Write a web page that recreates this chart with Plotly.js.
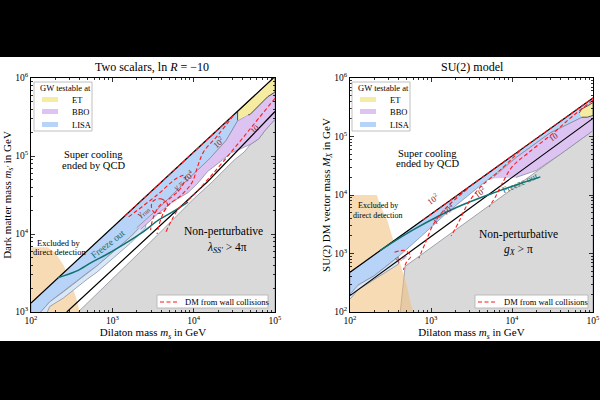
<!DOCTYPE html>
<html>
<head>
<meta charset="utf-8">
<script src="https://cdn.plot.ly/plotly-3.0.1.min.js"></script>
<style>
  html, body { margin: 0; padding: 0; background: #000; }
  #chart { width: 600px; height: 400px; }
</style>
</head>
<body>
<div id="chart"></div>
<script>
// All coordinates below are log10 of the masses in GeV: [log10 m_s, log10 m_DM]

// ---------- Left panel: two scalars, ln R = -10 ----------
const L_upperEdge   = [[2.0, 3.115], [4.98, 6.0]];
const L_lowerEdge   = [[2.44, 3.0], [4.17, 4.67], [5.0, 5.57]];
const L_nonPert     = [[2.58, 3.0], [3.0, 3.42], [3.5, 3.93], [4.0, 4.45], [4.23, 4.67], [4.5, 4.95],
                       [4.62, 5.05], [4.7, 5.15], [4.8, 5.22], [4.88, 5.33], [5.0, 5.47], [5.0, 3.0]];
const L_lisa        = [[2.0, 3.0], [2.0, 3.115], [4.54, 5.57], [4.54, 5.45], [4.4, 5.2], [4.2, 4.97],
                       [3.93, 4.70], [3.6, 4.36], [3.41, 4.16], [3.22, 3.96], [3.01, 3.77], [2.81, 3.59],
                       [2.69, 3.50], [2.52, 3.36], [2.40, 3.26], [2.23, 3.13], [2.12, 3.0]];
const L_lisaPale    = [[2.12, 3.0], [2.23, 3.13], [2.40, 3.26], [2.52, 3.36], [2.69, 3.50], [2.81, 3.59],
                       [3.01, 3.77], [3.22, 3.96], [3.41, 4.16], [3.41, 4.08], [3.22, 3.88], [3.01, 3.69],
                       [2.81, 3.51], [2.69, 3.42], [2.52, 3.28], [2.40, 3.18], [2.23, 3.07], [2.2, 3.0]];
const L_bbo         = [[3.3, 4.08], [3.6, 4.36], [3.93, 4.70], [4.2, 4.97], [4.4, 5.2], [4.54, 5.45],
                       [4.67, 5.53], [4.69, 5.53], [4.91, 5.76], [5.0, 5.82], [5.0, 5.47], [4.88, 5.33],
                       [4.8, 5.22], [4.7, 5.15], [4.55, 5.08], [4.46, 5.04], [4.33, 4.93], [4.17, 4.80],
                       [4.05, 4.65], [3.93, 4.53], [3.75, 4.42], [3.55, 4.25], [3.35, 4.06]];
const L_et          = [[4.54, 5.46], [4.54, 5.57], [4.98, 6.0], [5.0, 6.0], [5.0, 5.82], [4.91, 5.76],
                       [4.69, 5.53], [4.67, 5.53]];
const L_directDet   = [[2.0, 3.0], [2.0, 3.83], [2.2, 3.83], [2.3, 3.76], [2.4, 3.6], [2.48, 3.40],
                       [2.55, 3.2], [2.6, 3.0]];
const L_freezeOut   = [[2.33, 3.44], [2.55, 3.52], [2.75, 3.64], [2.95, 3.75], [3.16, 3.88], [3.37, 4.02],
                       [3.57, 4.18], [3.75, 4.29], [3.93, 4.41]];
// wall-collision contours
const L_gammaEnv    = [[3.15, 4.23], [4.0, 5.05], [4.5, 5.53]];
const L_gamma10     = [[5.0, 5.74], [4.75, 5.42], [4.5, 5.1], [4.2, 4.73], [3.96, 4.46], [3.82, 4.33],
                       [3.74, 4.2], [3.66, 4.03]];
const L_gamma100    = [[4.49, 5.52], [4.3, 5.27], [4.12, 5.05], [4.05, 4.87], [3.98, 4.66], [3.85, 4.5],
                       [3.68, 4.36], [3.6, 4.2], [3.55, 4.0]];
const L_gamma1e4    = [[3.2, 4.22], [3.55, 4.5], [3.8, 4.72], [3.9, 4.75], [3.85, 4.6], [3.7, 4.45],
                       [3.58, 4.36], [3.5, 4.2], [3.47, 4.05]];
const L_gammaRun    = [[3.5, 4.42], [3.6, 4.45], [3.68, 4.38], [3.62, 4.28], [3.52, 4.27], [3.48, 4.35], [3.5, 4.42]];

// ---------- Right panel: SU(2) model ----------
const R_upperEdge   = [[2.0, 2.68], [5.0, 5.66]];
const R_lowerEdge   = [[2.0, 2.28], [5.0, 5.31]];
const R_nonPert     = [[2.62, 2.0], [2.68, 2.78], [3.2, 3.3], [3.8, 3.9], [4.3, 4.4], [4.6, 4.7], [5.0, 5.1], [5.0, 2.0]];
const R_lisa        = [[2.0, 2.30], [2.0, 2.68], [5.0, 5.66], [5.0, 5.42], [4.47, 5.06], [4.06, 4.65],
                       [3.6, 4.15], [3.2, 3.7], [2.9, 3.32], [2.6, 2.95], [2.3, 2.62], [2.1, 2.46]];
const R_lisaPale    = [[2.0, 2.30], [2.1, 2.46], [2.3, 2.62], [2.6, 2.95], [2.6, 2.82], [2.3, 2.55], [2.1, 2.38], [2.0, 2.22]];
const R_bbo         = [[3.75, 4.28], [4.06, 4.65], [4.47, 5.06], [5.0, 5.42], [5.0, 5.1], [4.6, 4.7], [4.3, 4.42], [4.05, 4.3]];
const R_et          = [[4.83, 5.40], [4.86, 5.47], [4.93, 5.52], [5.0, 5.58], [5.0, 5.36], [4.93, 5.33], [4.86, 5.33]];
const R_directDet   = [[2.0, 2.0], [2.0, 4.0], [2.33, 4.0], [2.38, 3.8], [2.46, 3.57], [2.52, 3.3], [2.58, 3.03],
                       [2.64, 2.75], [2.70, 2.46], [2.74, 2.2], [2.78, 2.0]];
const R_freezeOut   = [[2.37, 3.05], [2.8, 3.42], [3.32, 3.79], [3.8, 4.05], [4.35, 4.31]];
// wall-collision contours
const R_gammaEnv    = [[2.9, 3.57], [4.0, 4.67], [5.0, 5.66]];
const R_gamma10     = [[5.0, 5.62], [4.75, 5.35], [4.51, 5.06], [4.2, 4.72], [4.0, 4.48], [3.88, 4.2],
                       [3.8, 3.98], [3.72, 3.8]];
const R_gamma100    = [[4.1, 4.76], [3.85, 4.42], [3.6, 4.12], [3.45, 3.84], [3.35, 3.56], [3.25, 3.3]];
const R_gamma1e4    = [[3.45, 4.1], [3.2, 3.8], [3.03, 3.5], [2.93, 3.18], [2.85, 2.92]];
const R_gammaRun    = [[2.55, 3.02], [2.68, 3.05], [2.75, 2.95], [2.7, 2.86], [2.66, 2.72]];

// ---------- axis ticks ----------
const xTickVals = [1e2, 1e3, 1e4, 1e5];
const xTickText = ['10<sup>2</sup>', '10<sup>3</sup>', '10<sup>4</sup>', '10<sup>5</sup>'];
const yTickValsL = [1e3, 1e4, 1e5, 1e6];
const yTickTextL = ['10<sup>3</sup>', '10<sup>4</sup>', '10<sup>5</sup>', '10<sup>6</sup>'];
const yTickValsR = [1e2, 1e3, 1e4, 1e5, 1e6];
const yTickTextR = ['10<sup>2</sup>', '10<sup>3</sup>', '10<sup>4</sup>', '10<sup>5</sup>', '10<sup>6</sup>'];

// ---------- colours ----------
const C = {
  gray: '#d9d9d9', lisa: '#b7d3f7', lisaPale: '#d9e8f8', bbo: '#dcc3f2', et: '#f5eca2',
  direct: 'rgba(240,190,120,0.55)', edge: '#7f8494', teal: '#12706f', red: '#ff1a1a', label: '#8c2232'
};

const pow10 = a => a.map(v => Math.pow(10, v));
function poly(pts, xa, ya, fill, line) {
  return {
    type: 'scatter', mode: 'lines', xaxis: xa, yaxis: ya, hoverinfo: 'skip',
    x: pow10(pts.map(p => p[0])), y: pow10(pts.map(p => p[1])),
    fill: 'toself', fillcolor: fill,
    line: line || { color: C.edge, width: 0.7 }
  };
}
function curve(pts, xa, ya, line) {
  return {
    type: 'scatter', mode: 'lines', xaxis: xa, yaxis: ya, hoverinfo: 'skip',
    x: pow10(pts.map(p => p[0])), y: pow10(pts.map(p => p[1])), line: line
  };
}
const blackLine = { color: '#000', width: 1.2 };
const tealLine = { color: C.teal, width: 1.5, shape: 'spline' };
const redDash = { color: C.red, width: 1.1, dash: '4px,2.5px', shape: 'spline' };

function panel(p, xa, ya) {
  return [
    poly(p.nonPert, xa, ya, C.gray),
    poly(p.direct, xa, ya, C.direct, { width: 0 }),
    poly(p.lisa, xa, ya, C.lisa),
    poly(p.lisaPale, xa, ya, C.lisaPale),
    poly(p.bbo, xa, ya, C.bbo),
    poly(p.et, xa, ya, C.et, { color: '#333', width: 0.8 }),
    curve(p.upper, xa, ya, blackLine),
    curve(p.lower, xa, ya, blackLine),
    curve(p.freeze, xa, ya, tealLine),
    ...p.gammas.map(g => curve(g, xa, ya, redDash))
  ];
}

const data = [
  ...panel({ nonPert: L_nonPert, direct: L_directDet, lisa: L_lisa, lisaPale: L_lisaPale, bbo: L_bbo,
             et: L_et, upper: L_upperEdge, lower: L_lowerEdge, freeze: L_freezeOut,
             gammas: [L_gammaEnv, L_gamma10, L_gamma100, L_gamma1e4, L_gammaRun] }, 'x', 'y'),
  ...panel({ nonPert: R_nonPert, direct: R_directDet, lisa: R_lisa, lisaPale: R_lisaPale, bbo: R_bbo,
             et: R_et, upper: R_upperEdge, lower: R_lowerEdge, freeze: R_freezeOut,
             gammas: [R_gammaEnv, R_gamma10, R_gamma100, R_gamma1e4, R_gammaRun] }, 'x2', 'y2')
];

// ---------- layout helpers (pixel -> paper) ----------
const W = 600, H = 400;
const PX = x => x / W, PY = y => 1 - y / H;

function minorVals(lo, hi) {
  const v = [];
  for (let e = lo; e < hi; e++) for (let k = 2; k <= 9; k++) v.push(k * Math.pow(10, e));
  return v;
}
const serif = 'Liberation Serif';
function axis(extra) {
  return Object.assign({
    type: 'log', showline: true, linecolor: '#000', linewidth: 1, mirror: 'allticks',
    ticks: 'inside', ticklen: 4, tickwidth: 0.8, tickcolor: '#000', showgrid: false, zeroline: false,
    tickmode: 'array', tickfont: { size: 9.5, family: serif, color: '#000' },
    ticklabeloverflow: 'allow', automargin: false, fixedrange: true
  }, extra);
}

function txt(x, y, text, size, extra) {
  return Object.assign({
    xref: 'paper', yref: 'paper', x: PX(x), y: PY(y), text: text, showarrow: false,
    xanchor: 'center', yanchor: 'middle', font: { family: serif, size: size, color: '#000' }
  }, extra);
}
function dataTxt(xa, ya, lx, ly, text, size, angle, color) {
  return {
    xref: xa, yref: ya, x: lx, y: ly, text: text, showarrow: false, textangle: angle,
    xanchor: 'center', yanchor: 'middle', font: { family: serif, size: size, color: color }
  };
}
function rect(x0, y0, x1, y1, fill, lineColor, lw) {
  return { type: 'rect', xref: 'paper', yref: 'paper', x0: PX(x0), x1: PX(x1), y0: PY(y1), y1: PY(y0),
           fillcolor: fill, line: { color: lineColor || fill, width: lw === undefined ? 0 : lw }, layer: 'above' };
}
function gwLegend(x0, y0) {
  return [
    rect(x0, y0, x0 + 58, y0 + 49, 'rgba(255,255,255,0.95)', '#b0b0b0', 0.8),
    rect(x0 + 8, y0 + 15, x0 + 24, y0 + 20, C.et),
    rect(x0 + 8, y0 + 27, x0 + 24, y0 + 32, C.bbo),
    rect(x0 + 8, y0 + 40, x0 + 24, y0 + 45, C.lisa)
  ];
}
function gwLegendText(x0, y0) {
  return [
    txt(x0 + 4, y0 + 6.5, 'GW testable at', 8.5, { xanchor: 'left' }),
    txt(x0 + 36, y0 + 17.5, 'ET', 8.5, { xanchor: 'left' }),
    txt(x0 + 36, y0 + 30, 'BBO', 8.5, { xanchor: 'left' }),
    txt(x0 + 36, y0 + 43, 'LISA', 8.5, { xanchor: 'left' })
  ];
}
function dmLegend(x0, y0, w) {
  return [
    rect(x0, y0, x0 + w, y0 + 13, 'rgba(255,255,255,0.95)', '#b0b0b0', 0.8),
    { type: 'line', xref: 'paper', yref: 'paper', x0: PX(x0 + 3), x1: PX(x0 + 22), y0: PY(y0 + 7), y1: PY(y0 + 7),
      line: { color: C.red, width: 1.2, dash: '4px,2.5px' }, layer: 'above' }
  ];
}

const layout = {
  width: W, height: H, margin: { l: 0, r: 0, t: 0, b: 0 },
  paper_bgcolor: '#000', plot_bgcolor: '#fff', showlegend: false,
  font: { family: serif, size: 9, color: '#000' },
  xaxis: axis({ range: [2, 5], domain: [PX(31), PX(275)], anchor: 'y', tickvals: xTickVals, ticktext: xTickText,
                minor: { ticks: 'inside', ticklen: 2, tickcolor: '#000', tickvals: minorVals(2, 5) },
                title: { text: 'Dilaton mass <i>m<sub>s</sub></i> in GeV', font: { size: 11 }, standoff: 2 } }),
  yaxis: axis({ range: [3, 6], domain: [PY(312), PY(78)], anchor: 'x', tickvals: yTickValsL, ticktext: yTickTextL,
                minor: { ticks: 'inside', ticklen: 2, tickcolor: '#000', tickvals: minorVals(3, 6) },
                title: { text: "Dark matter mass <i>m<sub>s'</sub></i> in GeV", font: { size: 11 }, standoff: 1 } }),
  xaxis2: axis({ range: [2, 5], domain: [PX(350), PX(593)], anchor: 'y2', tickvals: xTickVals, ticktext: xTickText,
                 minor: { ticks: 'inside', ticklen: 2, tickcolor: '#000', tickvals: minorVals(2, 5) },
                 title: { text: 'Dilaton mass <i>m<sub>s</sub></i> in GeV', font: { size: 11 }, standoff: 2 } }),
  yaxis2: axis({ range: [2, 6], domain: [PY(312), PY(78)], anchor: 'x2', tickvals: yTickValsR, ticktext: yTickTextR,
                 minor: { ticks: 'inside', ticklen: 2, tickcolor: '#000', tickvals: minorVals(2, 6) },
                 title: { text: 'SU(2) DM vector mass <i>M<sub>X</sub></i> in GeV', font: { size: 11 }, standoff: 1 } }),
  shapes: [
    { type: 'rect', xref: 'paper', yref: 'paper', x0: 0, x1: 1, y0: PY(341), y1: PY(57),
      fillcolor: '#fff', line: { width: 0 }, layer: 'below' },
    ...gwLegend(34, 82), ...gwLegend(352, 82),
    ...dmLegend(157, 295, 111), ...dmLegend(475, 295, 113)
  ],
  annotations: [
    txt(152, 67, 'Two scalars, ln <i>R</i> = \u221210', 12),
    txt(472, 67, 'SU(2) model', 12),
    ...gwLegendText(34, 82), ...gwLegendText(352, 82),
    txt(183, 302, 'DM from wall collisions', 8.5, { xanchor: 'left' }),
    txt(502, 302, 'DM from wall collisions', 8.5, { xanchor: 'left' }),
    txt(93, 154, 'Super cooling', 10.5), txt(93, 165, 'ended by QCD', 10.5),
    txt(58, 243, 'Excluded by', 8.5), txt(59, 252, 'direct detection', 8.5),
    txt(223, 231, 'Non-perturbative', 11.5), txt(227, 248, "<i>\u03bb<sub>SS'</sub></i> > 4\u03c0", 11.5),
    txt(427, 153, 'Super cooling', 10.5), txt(427, 163, 'ended by QCD', 10.5),
    txt(378, 205.5, 'Excluded by', 8), txt(378, 215, 'direct detection', 8),
    txt(518, 234, 'Non-perturbative', 11.5), txt(518, 250, '<i>g<sub>X</sub></i> > \u03c0', 11.5),
    // curve labels (left)
    dataTxt('x', 'y', 2.95, 3.87, 'Freeze out', 9.5, -38, C.teal),
    dataTxt('x', 'y', 3.38, 4.29, '<i>\u03b3</i><sub>run</sub>', 9, -42, C.label),
    dataTxt('x', 'y', 3.88, 4.68, '<i>\u03b3</i> = 10<sup>4</sup>', 8.5, -42, C.label),
    dataTxt('x', 'y', 4.31, 5.17, '10<sup>2</sup>', 8.5, -42, C.label),
    dataTxt('x', 'y', 4.75, 5.35, '10', 8.5, -42, C.label),
    // curve labels (right)
    dataTxt('x2', 'y2', 4.1, 4.2, 'Freeze out', 9, -24, C.teal),
    dataTxt('x2', 'y2', 2.62, 2.94, '<i>\u03b3</i><sub>run</sub>', 8, -35, C.label),
    dataTxt('x2', 'y2', 3.15, 3.69, '<i>\u03b3</i> = 10<sup>4</sup>', 8.5, -35, C.label),
    dataTxt('x2', 'y2', 3.02, 3.93, '10<sup>2</sup>', 8.5, -35, C.label),
    dataTxt('x2', 'y2', 3.6, 4.05, '10<sup>2</sup>', 8.5, -35, C.label),
    dataTxt('x2', 'y2', 4.51, 4.99, '10', 8.5, -35, C.label)
  ]
};

Plotly.newPlot('chart', data, layout, { staticPlot: true, displayModeBar: false });
</script>
</body>
</html>
